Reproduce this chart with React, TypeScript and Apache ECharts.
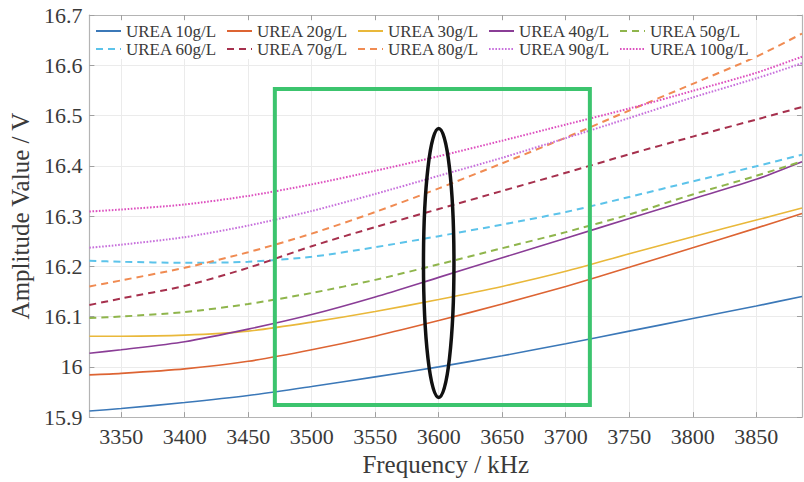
import React, { useEffect, useRef } from "react";
import * as echarts from "echarts";

const freqs = [3325, 3350, 3400, 3450, 3500, 3550, 3600, 3650, 3700, 3750, 3800, 3850, 3886];

const u10 = [15.912, 15.917, 15.929, 15.943, 15.961, 15.98, 16.0, 16.022, 16.046, 16.071, 16.096, 16.121, 16.14];
const u20 = [15.984, 15.987, 15.996, 16.011, 16.034, 16.061, 16.092, 16.125, 16.16, 16.198, 16.237, 16.276, 16.305];
const u30 = [16.061, 16.061, 16.063, 16.071, 16.089, 16.11, 16.134, 16.16, 16.19, 16.225, 16.259, 16.292, 16.316];
const u40 = [16.027, 16.034, 16.05, 16.075, 16.104, 16.139, 16.178, 16.217, 16.256, 16.295, 16.334, 16.373, 16.408];
const u50 = [16.097, 16.1, 16.109, 16.125, 16.147, 16.173, 16.204, 16.236, 16.268, 16.303, 16.343, 16.38, 16.409];
const u60 = [16.211, 16.209, 16.207, 16.209, 16.219, 16.238, 16.26, 16.283, 16.308, 16.338, 16.369, 16.399, 16.422];
const u70 = [16.123, 16.136, 16.161, 16.197, 16.24, 16.278, 16.314, 16.35, 16.386, 16.423, 16.458, 16.492, 16.517];
const u80 = [16.16, 16.172, 16.197, 16.228, 16.265, 16.308, 16.355, 16.405, 16.456, 16.51, 16.563, 16.617, 16.663];
const u90 = [16.237, 16.243, 16.258, 16.281, 16.31, 16.344, 16.38, 16.416, 16.455, 16.495, 16.536, 16.574, 16.604];
const u100 = [16.309, 16.313, 16.323, 16.34, 16.363, 16.39, 16.419, 16.45, 16.482, 16.514, 16.549, 16.585, 16.617];

const seriesNames = [
  "UREA 10g/L", "UREA 20g/L", "UREA 30g/L", "UREA 40g/L", "UREA 50g/L",
  "UREA 60g/L", "UREA 70g/L", "UREA 80g/L", "UREA 90g/L", "UREA 100g/L",
];
const seriesValues = [u10, u20, u30, u40, u50, u60, u70, u80, u90, u100];
const seriesColors = [
  "#3b78b8", "#dd6433", "#e9b83a", "#8a3d96", "#8fb54c",
  "#5cc3ea", "#a6304d", "#f08b52", "#c770dc", "#dd4fbf",
];
const seriesDash = ["solid", "solid", "solid", "solid", "dashed", "dashed", "dashed", "dashed", "dotted", "dotted"];

const xTicks = [3350, 3400, 3450, 3500, 3550, 3600, 3650, 3700, 3750, 3800, 3850];
const xMin = 3325;
const xMax = 3886;
const yMin = 15.9;
const yMax = 16.7;
const yStep = 0.1;

// annotation boxes (data coordinates)
const rectBox = { x0: 3471, x1: 3719, y0: 15.924, y1: 16.553 };
const ellipseBox = { x0: 3588, x1: 3612, y0: 15.939, y1: 16.474 };

const FONT = "'Liberation Serif', 'Times New Roman', serif";

export default function App() {
  const ref = useRef<HTMLDivElement>(null);
  useEffect(() => {
    if (!ref.current) return;
    const chart = echarts.init(ref.current, undefined, { renderer: "svg" });
    const dashFor = (d: string) =>
      d === "dashed" ? [7, 5] : d === "dotted" ? [1.6, 1.6] : "solid";
    const series = seriesNames.map((name, i) => ({
      name,
      type: "line",
      data: freqs.map((f, j) => [f, seriesValues[i][j]]),
      smooth: 0.25,
      symbol: "none",
      showSymbol: false,
      color: seriesColors[i],
      lineStyle: {
        color: seriesColors[i],
        width: seriesDash[i] === "solid" ? 1.6 : 2,
        type: dashFor(seriesDash[i]) as any,
      },
      xAxisIndex: 0,
      yAxisIndex: 0,
      z: 3,
    }));
    const gridLine = { show: true, lineStyle: { color: "#ebebeb", width: 1 } };
    const axisLine = { show: true, lineStyle: { color: "#b4b4b4", width: 1.2 } };
    const tick = { show: true, inside: true, length: 5, lineStyle: { color: "#a0a0a0" } };
    const legendCommon = {
      left: 93,
      itemWidth: 25,
      itemHeight: 14,
      itemGap: 4,
      orient: "horizontal",
      backgroundColor: "#ffffff",
      padding: [1, 4, 1, 2],
      itemStyle: { opacity: 0 },
      textStyle: {
        fontFamily: FONT,
        fontSize: 17,
        color: "#3a3a3a",
        width: 96,
        lineHeight: 18,
      },
    };
    chart.setOption({
      animation: false,
      backgroundColor: "#ffffff",
      grid: { left: 85, right: 2, top: 15, bottom: 58, containLabel: false },
      legend: [
        { ...legendCommon, top: 21, data: seriesNames.slice(0, 5) },
        { ...legendCommon, top: 39, data: seriesNames.slice(5) },
      ],
      xAxis: [
        {
          type: "value",
          min: xMin,
          max: xMax,
          position: "bottom",
          name: "Frequency / kHz",
          nameLocation: "middle",
          nameGap: 32,
          nameTextStyle: { fontFamily: FONT, fontSize: 25, color: "#3a3a3a" },
          axisLine,
          axisTick: { ...tick, customValues: xTicks },
          axisLabel: {
            customValues: xTicks,
            formatter: (v: number) => String(Math.round(v)),
            fontFamily: FONT,
            fontSize: 22,
            color: "#3a3a3a",
            margin: 8,
          },
          splitLine: gridLine,
        },
        {
          type: "value",
          min: xMin,
          max: xMax,
          position: "top",
          axisLine,
          axisTick: { ...tick, customValues: xTicks },
          axisLabel: { show: false, customValues: xTicks },
          splitLine: { show: false },
        },
      ],
      yAxis: [
        {
          type: "value",
          min: yMin,
          max: yMax,
          interval: yStep,
          position: "left",
          name: "Amplitude Value / V",
          nameLocation: "middle",
          nameGap: 46,
          nameTextStyle: { fontFamily: FONT, fontSize: 25, color: "#3a3a3a" },
          axisLine,
          axisTick: tick,
          axisLabel: {
            fontFamily: FONT,
            fontSize: 22,
            color: "#3a3a3a",
            margin: 7,
          },
          splitLine: gridLine,
        },
        {
          type: "value",
          min: yMin,
          max: yMax,
          interval: yStep,
          position: "right",
          axisLine,
          axisTick: tick,
          axisLabel: { show: false },
          splitLine: { show: false },
        },
      ],
      series,
    });

    const p = (x: number, y: number) =>
      chart.convertToPixel({ gridIndex: 0 }, [x, y]) as number[];
    const r0 = p(rectBox.x0, rectBox.y1);
    const r1 = p(rectBox.x1, rectBox.y0);
    const e0 = p(ellipseBox.x0, ellipseBox.y1);
    const e1 = p(ellipseBox.x1, ellipseBox.y0);
    chart.setOption({
      graphic: [
        {
          type: "rect",
          z: 10,
          shape: { x: r0[0], y: r0[1], width: r1[0] - r0[0], height: r1[1] - r0[1] },
          style: { fill: "none", stroke: "#3cc46e", lineWidth: 4 },
        },
        {
          type: "ellipse",
          z: 10,
          shape: {
            cx: (e0[0] + e1[0]) / 2,
            cy: (e0[1] + e1[1]) / 2,
            rx: (e1[0] - e0[0]) / 2,
            ry: (e1[1] - e0[1]) / 2,
          },
          style: { fill: "none", stroke: "#111111", lineWidth: 3.5 },
        },
      ],
    });
    return () => chart.dispose();
  }, []);
  return (
    <div
      ref={ref}
      style={{ position: "absolute", left: 0, top: 0, width: 804, height: 482 }}
    />
  );
}
